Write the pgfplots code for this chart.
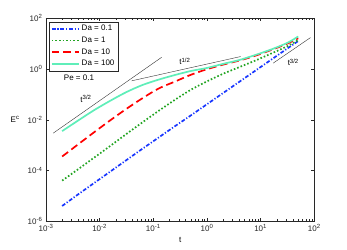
\documentclass[border=0pt]{standalone}
\usepackage{pgfplots}
\pgfplotsset{compat=1.18}
\usepackage{fontspec}
\setmainfont{Liberation Sans}
\definecolor{cblue}{RGB}{25,55,255}
\definecolor{cgreen}{RGB}{35,165,35}
\definecolor{cred}{RGB}{255,0,0}
\definecolor{ccyan}{RGB}{95,238,185}
\definecolor{axcol}{RGB}{40,40,40}
\begin{document}
\begin{tikzpicture}
\path[use as bounding box] (-46pt,-27.8pt) rectangle (301pt,221.2pt);
\begin{axis}[
  at={(0,0)}, anchor=south west,
  scale only axis, width=268.3pt, height=203pt,
  xmode=log, ymode=log,
  xmin=1e-3, xmax=1e2, ymin=1e-6, ymax=1e2,
  xtick={1e-3,1e-2,1e-1,1,1e1,1e2},
  xticklabels={10\textsuperscript{-3},10\textsuperscript{-2},10\textsuperscript{-1},10\textsuperscript{0},10\textsuperscript{1},10\textsuperscript{2}},
  ytick={1e-6,1e-4,1e-2,1,1e2},
  yticklabels={10\textsuperscript{-6},10\textsuperscript{-4},10\textsuperscript{-2},10\textsuperscript{0},10\textsuperscript{2}},
  yminorticks=false,
  tick align=inside,
  major tick length=3pt, minor tick length=1.8pt,
  every tick/.style={axcol, line width=0.4pt},
  axis line style={axcol, line width=0.5pt},
  tick label style={font=\fontsize{8}{9}\selectfont, text=black!85},
  xlabel={t}, ylabel={E\textsuperscript{c}},
  x label style={at={(axis description cs:0.5,-0.094)}, anchor=center, font=\fontsize{8}{9}\selectfont},
  y label style={at={(axis description cs:-0.115,0.5)}, rotate=-90, anchor=center, font=\fontsize{8}{9}\selectfont},
  legend style={at={(axis description cs:0.0123,0.983)}, anchor=north west, draw=axcol, fill=white,
    font=\fontsize{8}{9}\selectfont, inner sep=1.5pt, row sep=0.6pt, line width=0.5pt},
  legend cell align=left,
  legend image code/.code={\draw[#1] (0pt,0pt) -- (27pt,0pt);},
]
\addplot[cblue, line width=1.7pt, dash pattern=on 3.8pt off 1.8pt on 1.2pt off 1.8pt] coordinates {
(0.002,3.981e-6) (0.003981,1.148e-5) (0.007943,3.236e-5) (0.01585,9.12e-5) (0.03162,2.570e-4)
(0.06310,7.244e-4) (0.1259,1.995e-3) (0.2512,5.495e-3) (0.5012,1.479e-2) (1,4.074e-2)
(1.995,0.1122) (3.981,0.3090) (7.943,0.8511) (15.85,2.344) (31.62,6.457) (50.12,12.59)};
\addlegendentry{Da = 0.1}
\addplot[cgreen, line width=1.7pt, dash pattern=on 1.6pt off 2pt, smooth] coordinates {
(0.002,3.981e-5) (0.003981,1.122e-4) (0.007943,3.236e-4) (0.01585,9.333e-4) (0.03162,2.754e-3)
(0.06310,7.943e-3) (0.1259,2.239e-2) (0.2512,6.026e-2) (0.5012,0.1514) (1,0.3236)
(1.995,0.6457) (3.981,1.175) (7.943,2.138) (15.85,4.074) (31.62,7.943) (50.12,13.80)};
\addlegendentry{Da = 1}
\addplot[cred, line width=1.7pt, dash pattern=on 7.5pt off 4pt, smooth] coordinates {
(0.002,3.548e-4) (0.003981,1.072e-3) (0.007943,3.236e-3) (0.01585,9.550e-3) (0.03162,2.692e-2)
(0.06310,7.079e-2) (0.1259,0.1698) (0.2512,0.3162) (0.5012,0.5888) (1,0.9772)
(1.995,1.479) (3.981,2.138) (7.943,3.311) (15.85,5.623) (31.62,10.0) (50.12,16.22)};
\addlegendentry{Da = 10}
\addplot[ccyan, line width=1.7pt, smooth] coordinates {
(0.002,3.548e-3) (0.003981,9.333e-3) (0.007943,2.399e-2) (0.01585,5.623e-2) (0.03162,0.1230)
(0.06310,0.2344) (0.1259,0.3802) (0.2512,0.5754) (0.5012,0.8318) (1,1.096)
(1.995,1.585) (3.981,2.239) (7.943,3.548) (15.85,5.888) (31.62,10.72) (50.12,19.05)};
\addlegendentry{Da = 100}
% reference slopes
\addplot[black!80, line width=0.4pt, forget plot] coordinates {(1.367e-3,2.965e-3) (0.1429,2.88)};
\addplot[black!80, line width=0.4pt, forget plot] coordinates {(0.0394,0.340) (4.227,3.076)};
\addplot[black!80, line width=0.4pt, forget plot] coordinates {(17.1,1.69) (84.9,17.2)};
\node[font=\fontsize{8}{9}\selectfont] at (axis cs:5.56e-3,0.0665) {t\textsuperscript{3/2}};
\node[font=\fontsize{8}{9}\selectfont] at (axis cs:4.12e-3,0.467) {Pe = 0.1};
\node[font=\fontsize{8}{9}\selectfont] at (axis cs:0.387,1.99) {t\textsuperscript{1/2}};
\node[font=\fontsize{8}{9}\selectfont] at (axis cs:40.6,1.82) {t\textsuperscript{3/2}};
\end{axis}
\end{tikzpicture}
\end{document}
